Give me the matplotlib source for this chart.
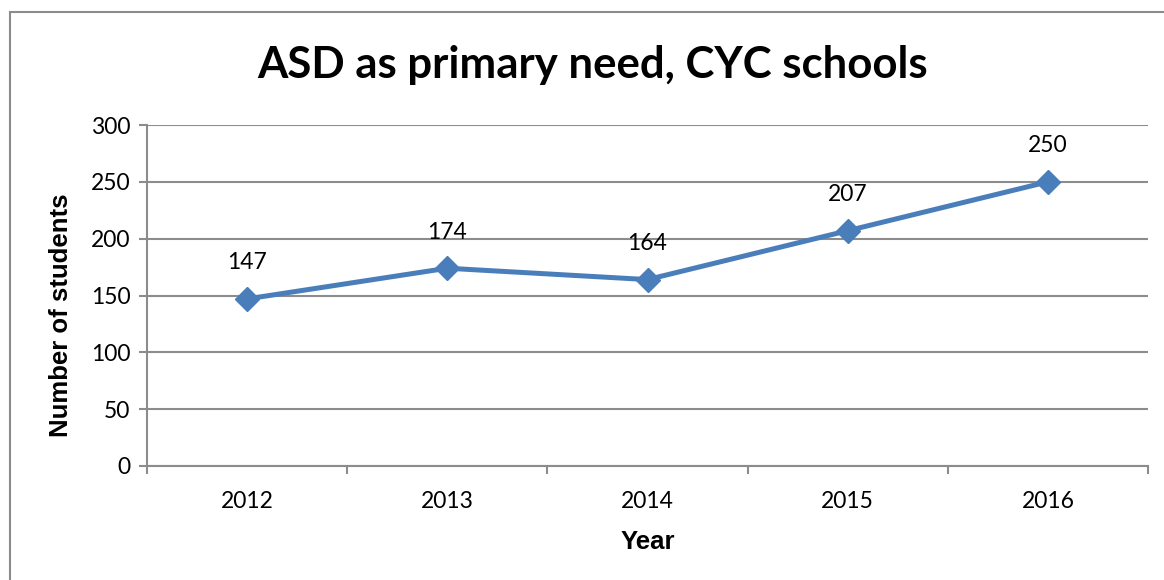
import matplotlib.pyplot as plt
from matplotlib.patches import Rectangle

years = ['2012', '2013', '2014', '2015', '2016']
students = [147, 174, 164, 207, 250]

LINE = '#4a7ebb'
GRID = '#8c8c8c'

fig = plt.figure(figsize=(11.64, 5.8), dpi=100)
W, H = 1164, 580

# chart area border (only left and top edges fall inside the image)
fig.patches.append(Rectangle((10 / W, -0.1), 1.2, 1 - 12 / H + 0.1,
                             transform=fig.transFigure, fill=False,
                             edgecolor=GRID, linewidth=1.5))

ax = fig.add_axes([147 / W, 1 - 466 / H, (1148 - 147) / W, (466 - 125) / H])

x = list(range(len(years)))
ax.plot(x, students, color=LINE, linewidth=3.6, marker='D', markersize=12,
        zorder=3)
for xi, v in zip(x, students):
    ax.annotate(str(v), (xi, v), xytext=(0, 26), textcoords='offset points',
                ha='center', va='center', fontsize=16.5, family='Lato')

ax.set_xlim(-0.5, len(years) - 0.5)
ax.set_ylim(0, 300)
ax.set_yticks(range(0, 301, 50))
ax.set_xticks(x)
ax.set_xticklabels(years)
ax.set_xticks([i - 0.5 for i in range(len(years) + 1)], minor=True)
ax.tick_params(axis='x', which='major', length=0, pad=18)
ax.tick_params(axis='x', which='minor', length=6, color=GRID, width=1.5)
ax.tick_params(axis='y', length=6, color=GRID, width=1.5, pad=6)
for lab in ax.get_xticklabels() + ax.get_yticklabels():
    lab.set_family('Lato')
    lab.set_fontsize(16.5)

ax.grid(axis='y', color=GRID, linewidth=1.5)
ax.set_axisbelow(True)
for side in ['top', 'right']:
    ax.spines[side].set_visible(False)
for side in ['left', 'bottom']:
    ax.spines[side].set_color(GRID)
    ax.spines[side].set_linewidth(1.5)

ax.set_xlabel('Year', family='Liberation Sans', fontweight='bold',
              fontsize=18.5, labelpad=13)
ax.set_ylabel('Number of students', family='Liberation Sans',
              fontweight='bold', fontsize=18.5)
ax.yaxis.set_label_coords(-0.074, 0.443)

fig.text(593 / W, 1 - 65 / H, 'ASD as primary need, CYC schools',
         ha='center', va='center', fontsize=31.5, fontweight='bold',
         family='Lato')

fig.savefig('out.png', dpi=100)
